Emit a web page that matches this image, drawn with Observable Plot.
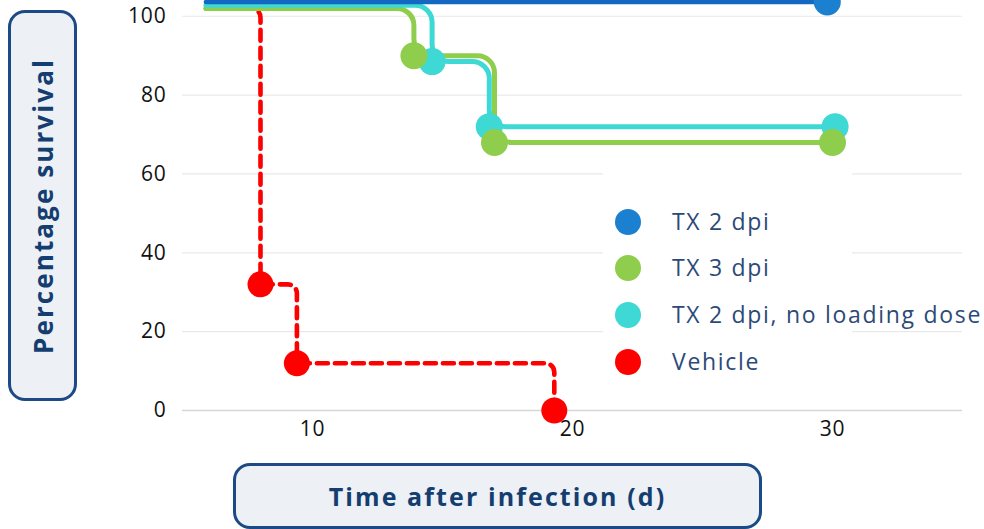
<!DOCTYPE html>
<html>
<head>
<meta charset="utf-8">
<script src="https://cdn.jsdelivr.net/npm/d3@7"></script>
<script src="https://cdn.jsdelivr.net/npm/@observablehq/plot@0.6"></script>
<style>
  html, body { margin: 0; padding: 0; background: #fff; }
  #wrap { position: relative; width: 984px; height: 529px; overflow: hidden; font-family: "Open Sans", sans-serif; }
  #chart { position: absolute; left: 0; top: 0; }
  #legendBg { position: absolute; left: 603px; top: 168px; width: 249px; height: 174px; background: #fff; }
  .lg-dot { position: absolute; width: 26px; height: 26px; border-radius: 50%; }
  .lg-txt { position: absolute; font-size: 23px; color: #2c4a78; letter-spacing: 1.7px; line-height: 30px; white-space: nowrap; }
  #ylab { position: absolute; left: 8px; top: 10px; width: 63px; height: 385px; border: 3px solid #1b4a85; border-radius: 17px; background: #edf0f5; display: flex; align-items: center; justify-content: center; }
  #ylab span { writing-mode: vertical-rl; transform: rotate(180deg); font-weight: 700; font-size: 26px; color: #143d70; letter-spacing: 2.1px; white-space: nowrap; }
  #xlab { position: absolute; left: 233px; top: 463px; height: 66px; border: 3px solid #1b4a85; border-radius: 17px; background: #edf0f5; display: flex; align-items: center; justify-content: center; font-weight: 700; font-size: 25px; color: #143d70; letter-spacing: 2.1px; white-space: nowrap; box-sizing: border-box; width: 529px; }
</style>
</head>
<body>
<div id="wrap">
  <div id="chart"></div>
  <div id="legendBg"></div>
  <div id="legend"></div>
  <div id="ylab"><span>Percentage survival</span></div>
  <div id="xlab">Time after infection (d)</div>
</div>
<script>
// ---- Data ----
const seriesNames = ["TX 2 dpi", "TX 3 dpi", "TX 2 dpi, no loading dose", "Vehicle"];
const seriesColors = ["#1b80cf", "#8fcd4d", "#3ed8d5", "#ff0000"];

// Kaplan-Meier steps: first point is the start of the curve (no marker)
const tx2Days = [5.9, 29.8];
const tx2Surv = [103.6, 103.6];

const tx3Days = [5.9, 13.9, 17.0, 30.0];
const tx3Surv = [102.0, 90.0, 68.0, 68.0];

const tx2nlDays = [5.9, 14.6, 16.8, 30.1];
const tx2nlSurv = [102.8, 88.5, 72.0, 72.0];

const vehDays = [5.9, 8.0, 9.4, 19.3];
const vehSurv = [102.0, 32.0, 12.0, 0.0];

const xTicks = [10, 20, 30];
const yTicks = [0, 20, 40, 60, 80, 100];

// ---- Build tables ----
function toRows(days, surv) { return days.map((d, i) => ({day: d, surv: surv[i], idx: i})); }
const tx2 = toRows(tx2Days, tx2Surv);
const tx3 = toRows(tx3Days, tx3Surv);
const tx2nl = toRows(tx2nlDays, tx2nlSurv);
const veh = toRows(vehDays, vehSurv);
const events = rows => rows.filter(r => r.idx > 0);

// Rounded step-after curve
function roundedStepAfter(radius) {
  return function(context) {
    let pts = [];
    return {
      areaStart() {}, areaEnd() {},
      lineStart() { pts = []; },
      point(x, y) { pts.push([+x, +y]); },
      lineEnd() {
        const v = [];
        for (let i = 0; i < pts.length; i++) {
          if (i > 0) v.push([pts[i][0], pts[i - 1][1]]);
          v.push(pts[i]);
        }
        const u = [v[0]];
        for (let i = 1; i < v.length; i++) {
          const p = u[u.length - 1];
          if (Math.abs(p[0] - v[i][0]) > 0.01 || Math.abs(p[1] - v[i][1]) > 0.01) u.push(v[i]);
        }
        if (!u.length) return;
        context.moveTo(u[0][0], u[0][1]);
        for (let i = 1; i < u.length - 1; i++) {
          const a = u[i - 1], b = u[i], c = u[i + 1];
          const l1 = Math.hypot(b[0] - a[0], b[1] - a[1]);
          const l2 = Math.hypot(c[0] - b[0], c[1] - b[1]);
          const r = Math.min(radius, l1 / 2, l2 / 2);
          context.arcTo(b[0], b[1], c[0], c[1], r);
        }
        const last = u[u.length - 1];
        context.lineTo(last[0], last[1]);
      }
    };
  };
}

const chart = Plot.plot({
  width: 984,
  height: 529,
  marginLeft: 182,
  marginRight: 22,
  marginTop: 0,
  marginBottom: 119,
  style: {fontFamily: "'Open Sans', sans-serif", background: "transparent", overflow: "hidden"},
  x: {domain: [5, 35]},
  y: {domain: [0, 104]},
  marks: [
    Plot.ruleY(yTicks.filter(t => t > 0), {stroke: "#e9e9e9", strokeWidth: 1.2}),
    Plot.ruleY([0], {stroke: "#d6d6d6", strokeWidth: 1.4}),
    Plot.axisX({ticks: xTicks, tickSize: 0, tickPadding: 11, fontSize: 21, fontWeight: 500, fill: "#111", label: null}),
    Plot.axisY({ticks: yTicks, tickSize: 0, tickPadding: 16, fontSize: 21, fontWeight: 500, fill: "#111", label: null}),
    Plot.line(veh, {x: "day", y: "surv", stroke: seriesColors[3], strokeWidth: 4.6, strokeDasharray: "11,7", curve: roundedStepAfter(9)}),
    Plot.line(tx3, {x: "day", y: "surv", stroke: seriesColors[1], strokeWidth: 5, curve: roundedStepAfter(17)}),
    Plot.line(tx2nl, {x: "day", y: "surv", stroke: seriesColors[2], strokeWidth: 5, curve: roundedStepAfter(17)}),
    Plot.line(tx2, {x: "day", y: "surv", stroke: "#1568c2", strokeWidth: 4.5, curve: roundedStepAfter(17)}),
    Plot.dot(events(veh), {x: "day", y: "surv", r: 13, fill: seriesColors[3]}),
    Plot.dot(events(tx2nl), {x: "day", y: "surv", r: 13.5, fill: seriesColors[2]}),
    Plot.dot(events(tx3), {x: "day", y: "surv", r: 13.5, fill: seriesColors[1]}),
    Plot.dot(events(tx2), {x: "day", y: "surv", r: 13.5, fill: seriesColors[0]})
  ]
});
chart.querySelectorAll("text").forEach(t => t.style.letterSpacing = "0.8px");
document.getElementById("chart").appendChild(chart);

// Legend
const legend = document.getElementById("legend");
seriesNames.forEach((name, i) => {
  const cy = 221.7 + i * 46.7;
  const dot = document.createElement("div");
  dot.className = "lg-dot";
  dot.style.left = (627.5 - 13) + "px";
  dot.style.top = (cy - 13) + "px";
  dot.style.background = seriesColors[i];
  legend.appendChild(dot);
  const txt = document.createElement("div");
  txt.className = "lg-txt";
  txt.style.left = "672px";
  txt.style.top = (cy - 16) + "px";
  txt.textContent = name;
  legend.appendChild(txt);
});
</script>
</body>
</html>
